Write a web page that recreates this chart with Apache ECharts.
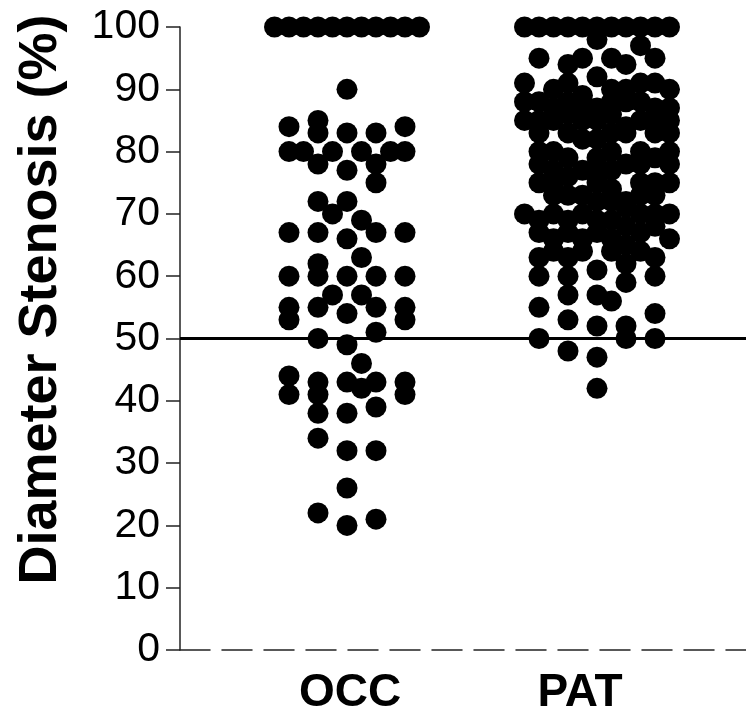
<!DOCTYPE html>
<html>
<head>
<meta charset="utf-8">
<script src="https://cdn.jsdelivr.net/npm/echarts@6/dist/echarts.min.js"></script>
<style>
  html, body { margin: 0; padding: 0; background: #fff; }
  #chart { width: 746px; height: 716px; }
</style>
</head>
<body>
<div id="chart"></div>
<script>
// ---- data ----
const categories = ['OCC', 'PAT'];
const yAxisTitle = 'Diameter Stenosis (%)';
const referenceValue = 50;
// each point: [dodge slot (side-by-side index within the group), diameter stenosis %]
const occPoints = [
  [-5,100],[-4,100],[-3,100],[-2,100],[-1,100],[0,100],[1,100],[2,100],[3,100],[4,100],[5,100],
  [0,90],
  [-4,84],[-2,85],[-2,83],[0,83],[2,83],[4,84],
  [-4,80],[-3,80],[-1,80],[1,80],[3,80],[4,80],
  [-2,78],[0,77],[2,78],[2,75],
  [-2,72],[0,72],[-1,70],[1,69],
  [-4,67],[-2,67],[0,66],[2,67],[4,67],
  [1,63],
  [-2,62],[-4,60],[-2,60],[0,60],[2,60],[4,60],
  [-1,57],[1,57],
  [-4,55],[-4,53],[-2,55],[0,54],[2,55],[4,55],[4,53],
  [2,51],[-2,50],[0,49],
  [1,46],
  [-4,44],[-4,41],[-2,43],[-2,41],[0,43],[1,42],[2,43],[4,43],[4,41],
  [-2,38],[0,38],[2,39],
  [-2,34],[0,32],[2,32],
  [0,26],
  [-2,22],[0,20],[2,21]
];
const patPoints = [
  [-5,100],[-4,100],[-3,100],[-2,100],[-1,100],[0,100],[1,100],[2,100],[3,100],[4,100],[5,100],
  [0,98],[3,97],
  [-4,95],[-2,94],[-1,95],[1,95],[2,94],[4,95],
  [-5,91],[0,92],[-3,90],[-2,91],[-1,89],[1,90],[2,90],[3,91],[4,91],[5,90],
  [-5,88],[-4,88],[-3,87],[-2,88],[-1,87],[0,87],[1,88],[2,88],[3,88],[4,87],[5,87],
  [-5,85],[-4,85],[-3,85],[-2,86],[-1,85],[0,85],[1,86],[2,84],[3,85],[4,85],[5,85],
  [-4,83],[-2,83],[-1,82],[0,82],[1,83],[2,83],[4,83],[5,83],
  [-4,80],[-3,80],[-2,79],[0,79],[1,80],[3,80],[4,79],[5,80],
  [-4,78],[-3,77],[-1,77],[0,77],[1,77],[2,78],[3,78],[5,78],
  [-4,75],[-3,75],[-2,76],[0,75],[1,74],[3,75],[4,75],[5,75],
  [-3,73],[-2,73],[-1,73],[1,72],[3,73],[4,73],
  [0,72],[2,72],
  [-5,70],[-3,70],[-1,70],[1,69],[2,71],[3,70],[4,70],[5,70],
  [-4,69],[-2,69],[0,69],
  [-4,67],[-3,66],[-2,67],[0,67],[1,66],[2,68],[3,67],[4,68],[5,66],
  [-3,64],[-1,64],[-1,66],[1,64],[2,65],[3,64],
  [-4,63],[-4,60],[-2,63],[-2,60],[-2,57],[0,61],[2,62],[2,59],[4,63],[4,60],
  [0,57],[1,56],
  [-4,55],[4,54],
  [-2,53],[0,52],[2,52],[2,50],
  [-4,50],[4,50],
  [-2,48],[0,47],
  [0,42]
];

// ---- style constants ----
const SLOT_W = 0.058;          // width of one dodge slot, in category units
const LABEL_SHIFT = [0.012, -0.068];
const X_MIN = 0.332, X_MAX = 2.596;

function toXY(points, catIndex) {
  const c = catIndex + 1;
  return points.map(p => [c + p[0] * SLOT_W, p[1]]);
}
const labelPositions = categories.map((_, i) => i + 1 + LABEL_SHIFT[i]);

const dotStyle = { color: '#000', opacity: 1 };

const chart = echarts.init(document.getElementById('chart'), null, { renderer: 'canvas' });
chart.setOption({
  animation: false,
  backgroundColor: '#ffffff',
  grid: { left: 180, right: 0, top: 27, bottom: 65, containLabel: false },
  xAxis: {
    type: 'value',
    min: X_MIN, max: X_MAX,
    splitLine: { show: false },
    axisTick: { show: false },
    axisLine: { show: true, lineStyle: { color: '#222', width: 1.5, type: [30, 12] } },
    axisLabel: {
      customValues: labelPositions,
      formatter: function (v) {
        let best = 0, d = Infinity;
        labelPositions.forEach((p, i) => { if (Math.abs(p - v) < d) { d = Math.abs(p - v); best = i; } });
        return categories[best];
      },
      margin: 20,
      color: '#000',
      fontFamily: 'Liberation Sans, Arial, sans-serif',
      fontWeight: 'bold',
      fontSize: 46
    }
  },
  yAxis: {
    type: 'value',
    min: 0, max: 100, interval: 10,
    name: yAxisTitle,
    nameLocation: 'middle',
    nameGap: 112,
    nameTextStyle: {
      color: '#000',
      fontFamily: 'Liberation Sans, Arial, sans-serif',
      fontWeight: 'bold',
      fontSize: 54,
      padding: [0, 0, 0, 78]
    },
    splitLine: { show: false },
    axisLine: { show: true, lineStyle: { color: '#222', width: 1.5 } },
    axisTick: { show: true, length: 14, lineStyle: { color: '#222', width: 1.5 } },
    axisLabel: {
      margin: 20,
      color: '#000',
      fontFamily: 'Liberation Sans, Arial, sans-serif',
      fontSize: 41
    }
  },
  series: [
    {
      name: categories[0],
      type: 'scatter',
      data: toXY(occPoints, 0),
      symbol: 'circle',
      symbolSize: 21,
      itemStyle: dotStyle,
      markLine: {
        silent: true,
        symbol: ['none', 'none'],
        label: { show: false },
        lineStyle: { color: '#000', width: 3, type: 'solid' },
        data: [{ yAxis: referenceValue }]
      }
    },
    {
      name: categories[1],
      type: 'scatter',
      data: toXY(patPoints, 1),
      symbol: 'circle',
      symbolSize: 21,
      itemStyle: dotStyle
    }
  ]
});
</script>
</body>
</html>
